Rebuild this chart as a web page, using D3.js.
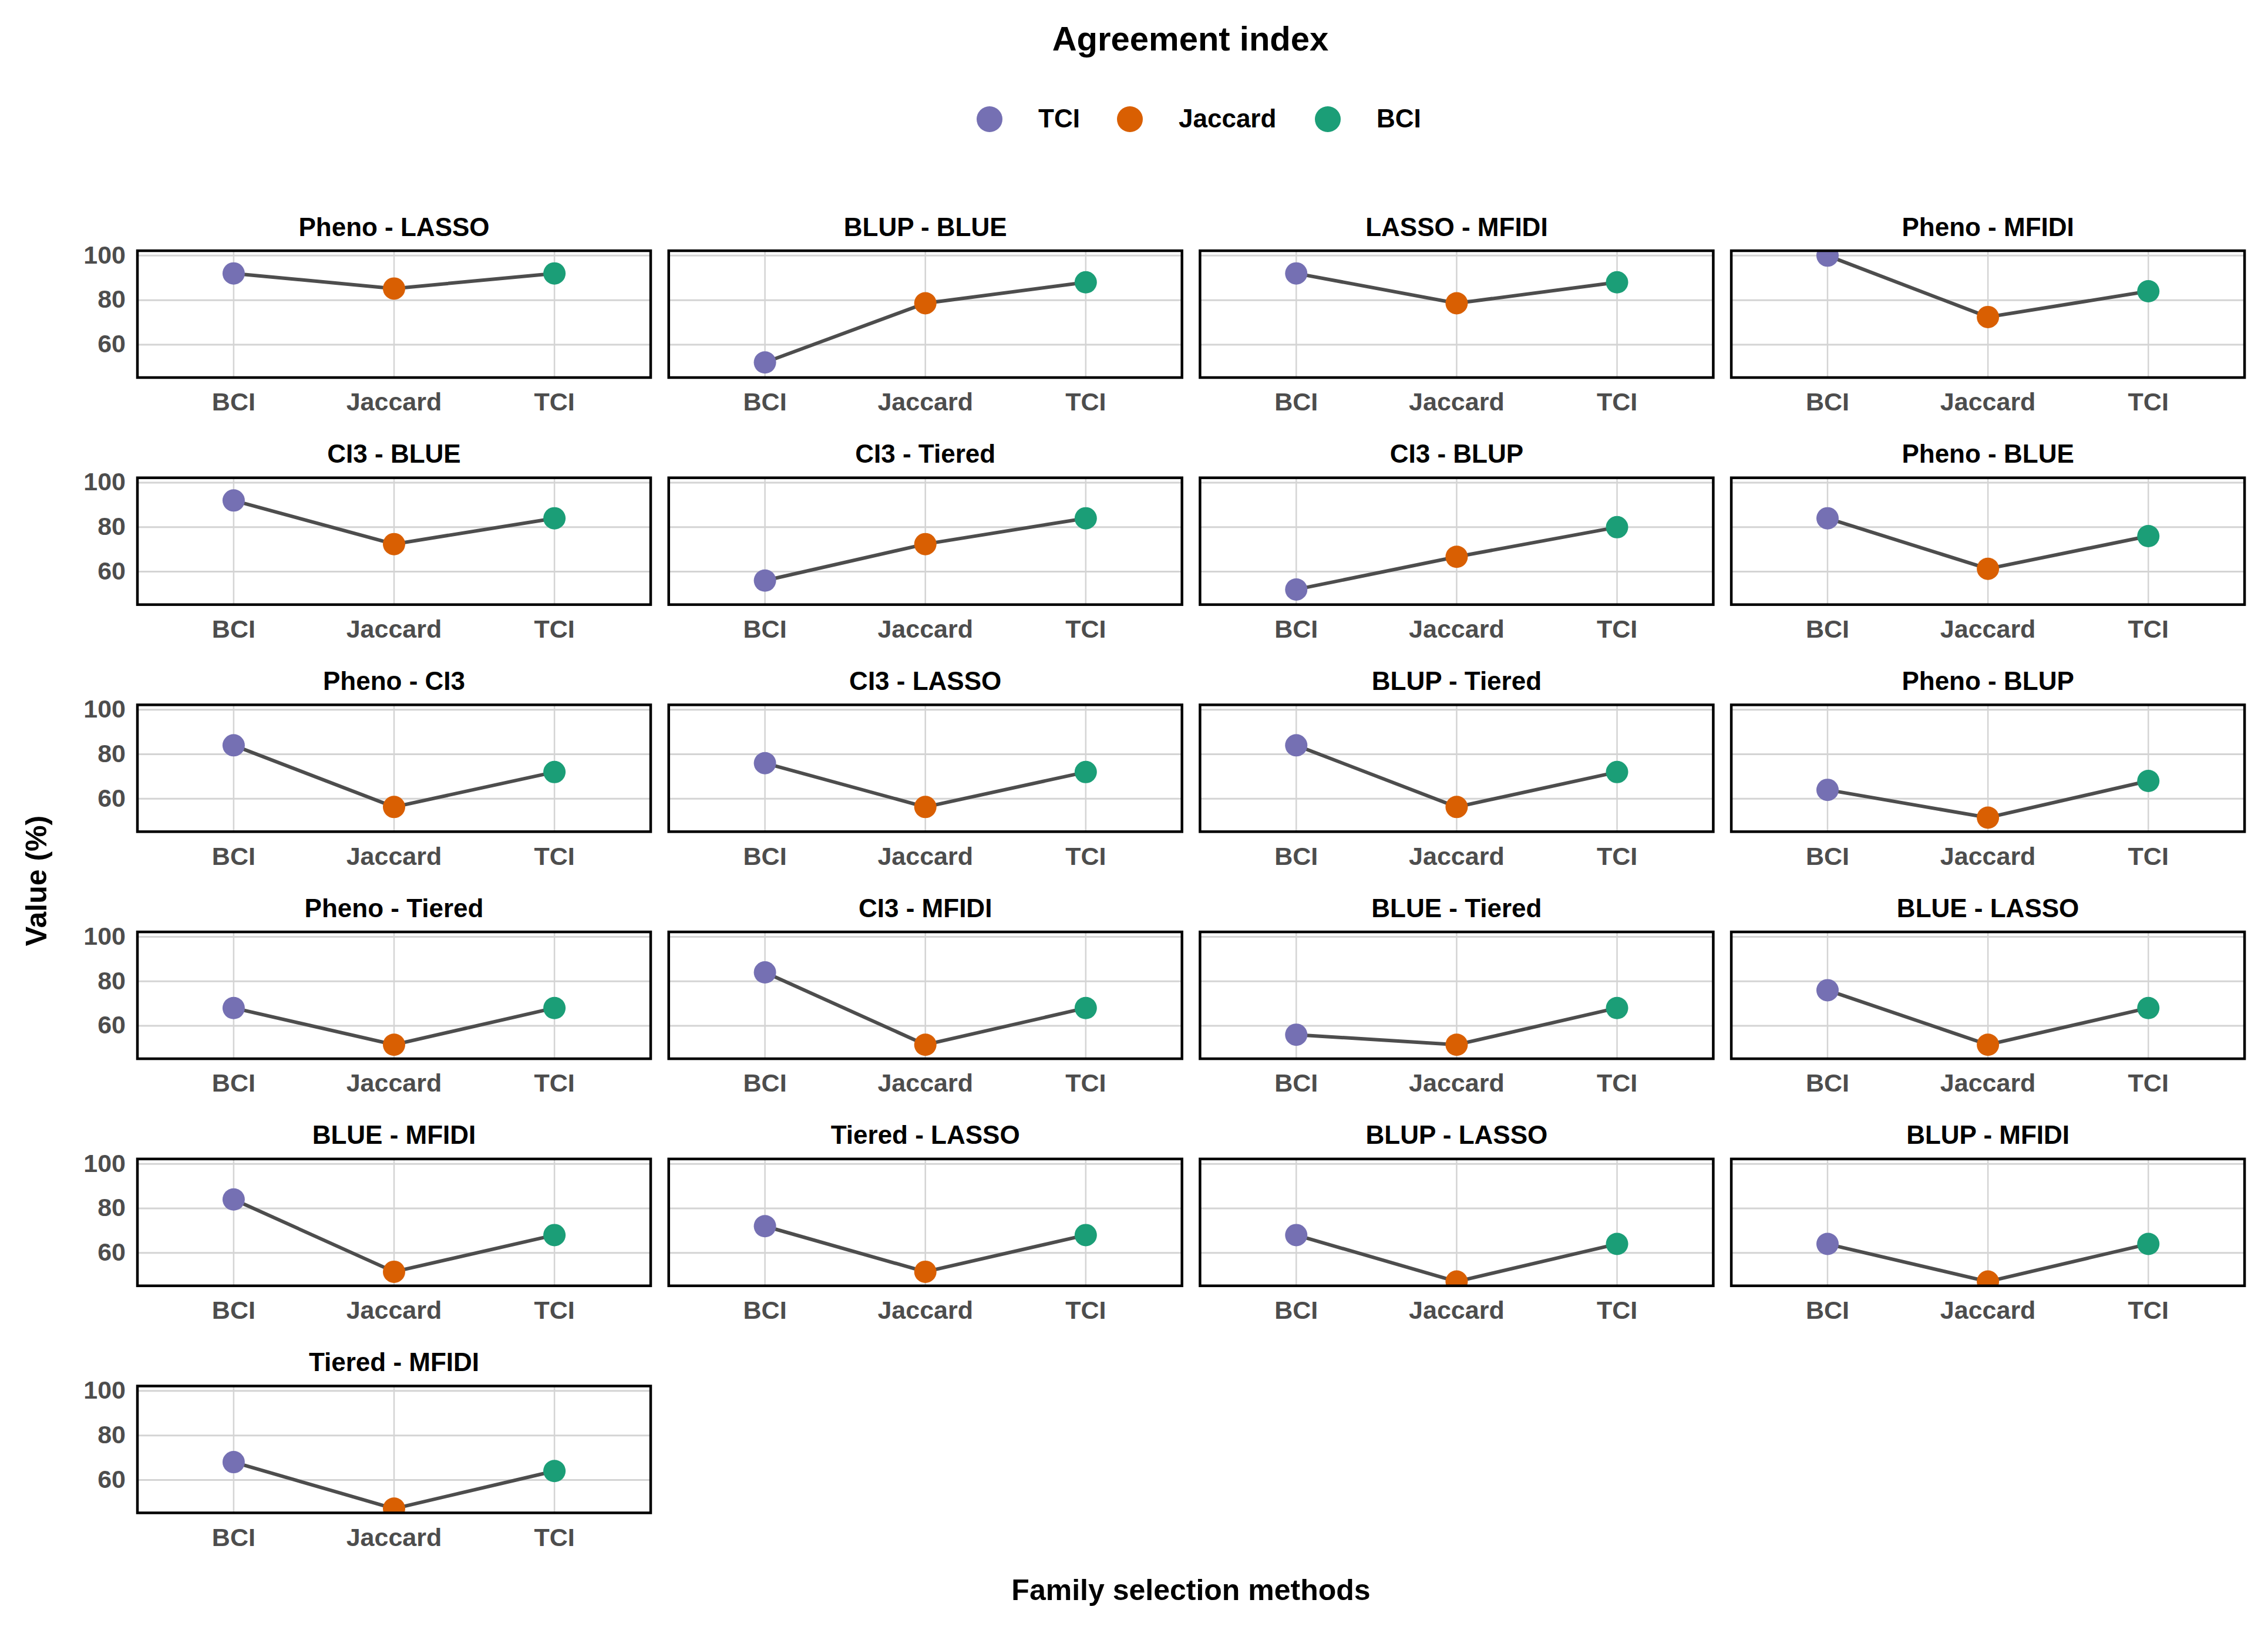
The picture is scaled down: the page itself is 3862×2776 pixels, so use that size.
<!DOCTYPE html>
<html>
<head>
<meta charset="utf-8">
<script src="https://cdn.jsdelivr.net/npm/d3@7"></script>
<style>
  body { margin: 0; background: #ffffff; }
  text { font-family: "Liberation Sans", Arial, sans-serif; font-weight: bold; }
</style>
</head>
<body>
<div id="chart"></div>
<script>
// facets, read row by row
var facetLabels = [
  "Pheno - LASSO", "BLUP - BLUE", "LASSO - MFIDI", "Pheno - MFIDI",
  "CI3 - BLUE", "CI3 - Tiered", "CI3 - BLUP", "Pheno - BLUE",
  "Pheno - CI3", "CI3 - LASSO", "BLUP - Tiered", "Pheno - BLUP",
  "Pheno - Tiered", "CI3 - MFIDI", "BLUE - Tiered", "BLUE - LASSO",
  "BLUE - MFIDI", "Tiered - LASSO", "BLUP - LASSO", "BLUP - MFIDI",
  "Tiered - MFIDI"
];
var categories = ["BCI", "Jaccard", "TCI"];

var bciValues     = [92, 52, 92, 100, 92, 56, 52, 84, 84, 76, 84, 64, 68, 84, 56, 76, 84, 72, 68, 64, 68];
var jaccardValues = [85.2, 78.6, 78.6, 72.4, 72.4, 72.4, 66.7, 61.3, 56.3, 56.3, 56.3, 51.5,
                     51.5, 51.5, 51.5, 51.5, 51.5, 51.5, 47.1, 47.1, 47.1];
var tciValues     = [92, 88, 88, 84, 84, 84, 80, 76, 72, 72, 72, 68, 68, 68, 68, 68, 68, 68, 64, 64, 64];

var legendLabels = ["TCI", "Jaccard", "BCI"];
var yTicks = [60, 80, 100];
var colours = ["#7570b3", "#d95f02", "#1b9e77"];

var W = 3862, H = 2776;
var nCols = 4;
var panelW = 874, panelH = 216;
var left0 = 234, top0 = 427, colStep = 904.7, rowStep = 386.7;

var svg = d3.select("#chart").append("svg")
    .attr("width", W)
    .attr("height", H);

svg.append("rect").attr("width", W).attr("height", H).attr("fill", "#ffffff");

var x = d3.scalePoint().domain(categories).range([0, panelW]).padding(0.6);
var y = d3.scaleLinear().domain([45.2, 102.2]).range([panelH, 0]);
var colour = d3.scaleOrdinal().domain([0, 1, 2]).range(colours);

var line = d3.line()
    .x(function(d) { return x(d.cat); })
    .y(function(d) { return y(d.value); });

// title + legend
svg.append("text")
    .attr("x", 2027).attr("y", 71)
    .attr("text-anchor", "middle").attr("dominant-baseline", "middle")
    .attr("font-size", 58).attr("fill", "#000")
    .text("Agreement index");

var legendX = [1685, 1924, 2261];
var legend = svg.selectAll(".legend")
    .data(legendLabels)
    .enter().append("g")
      .attr("class", "legend")
      .attr("transform", function(d, i) { return "translate(" + legendX[i] + ",203)"; });
legend.append("circle").attr("r", 22).attr("fill", function(d, i) { return colour(i); });
legend.append("text")
    .attr("x", 83).attr("y", 2).attr("dominant-baseline", "middle")
    .attr("font-size", 44).attr("fill", "#000")
    .text(function(d) { return d; });

var panels = facetLabels.map(function(name, i) {
  return {
    name: name,
    col: i % nCols,
    row: Math.floor(i / nCols),
    points: [
      {cat: categories[0], value: bciValues[i], k: 0},
      {cat: categories[1], value: jaccardValues[i], k: 1},
      {cat: categories[2], value: tciValues[i], k: 2}
    ]
  };
});

svg.append("defs").append("clipPath").attr("id", "panel-clip")
  .append("rect").attr("width", panelW).attr("height", panelH);

var panel = svg.selectAll(".panel")
    .data(panels)
    .enter().append("g")
      .attr("class", "panel")
      .attr("transform", function(d) {
        return "translate(" + (left0 + d.col * colStep) + "," + (top0 + d.row * rowStep) + ")";
      });

// strip
panel.append("text")
    .attr("x", panelW / 2).attr("y", -37)
    .attr("text-anchor", "middle").attr("dominant-baseline", "middle")
    .attr("font-size", 44).attr("fill", "#000")
    .text(function(d) { return d.name; });

var inner = panel.append("g").attr("clip-path", "url(#panel-clip)");

inner.selectAll(".ygrid")
    .data(yTicks)
    .enter().append("line")
      .attr("x1", 0).attr("x2", panelW)
      .attr("y1", function(d) { return y(d); })
      .attr("y2", function(d) { return y(d); })
      .attr("stroke", "#d4d4d4").attr("stroke-width", 3);

inner.selectAll(".xgrid")
    .data(categories)
    .enter().append("line")
      .attr("y1", 0).attr("y2", panelH)
      .attr("x1", function(d) { return x(d); })
      .attr("x2", function(d) { return x(d); })
      .attr("stroke", "#d4d4d4").attr("stroke-width", 2.5);

inner.append("path")
    .attr("d", function(d) { return line(d.points); })
    .attr("fill", "none").attr("stroke", "#4d4d4d").attr("stroke-width", 6);

inner.selectAll(".pt")
    .data(function(d) { return d.points; })
    .enter().append("circle")
      .attr("cx", function(d) { return x(d.cat); })
      .attr("cy", function(d) { return y(d.value); })
      .attr("r", 19)
      .attr("fill", function(d) { return colour(d.k); });

panel.append("rect")
    .attr("width", panelW).attr("height", panelH)
    .attr("fill", "none").attr("stroke", "#000").attr("stroke-width", 4.5);

// x axis labels under each panel
panel.selectAll(".xlab")
    .data(categories)
    .enter().append("text")
      .attr("x", function(d) { return x(d); })
      .attr("y", panelH + 45)
      .attr("text-anchor", "middle").attr("dominant-baseline", "middle")
      .attr("font-size", 43).attr("fill", "#4d4d4d")
      .text(function(d) { return d; });

// y axis labels on the first column only
panel.filter(function(d) { return d.col === 0; })
  .selectAll(".ylab")
    .data(yTicks)
    .enter().append("text")
      .attr("x", -20)
      .attr("y", function(d) { return y(d) + 2; })
      .attr("text-anchor", "end").attr("dominant-baseline", "middle")
      .attr("font-size", 43).attr("fill", "#4d4d4d")
      .text(function(d) { return d; });

svg.append("text")
    .attr("transform", "translate(66,1500) rotate(-90)")
    .attr("text-anchor", "middle").attr("dominant-baseline", "middle")
    .attr("font-size", 50).attr("fill", "#000")
    .text("Value (%)");

svg.append("text")
    .attr("x", 2028).attr("y", 2712)
    .attr("text-anchor", "middle").attr("dominant-baseline", "middle")
    .attr("font-size", 50).attr("fill", "#000")
    .text("Family selection methods");
</script>
</body>
</html>
